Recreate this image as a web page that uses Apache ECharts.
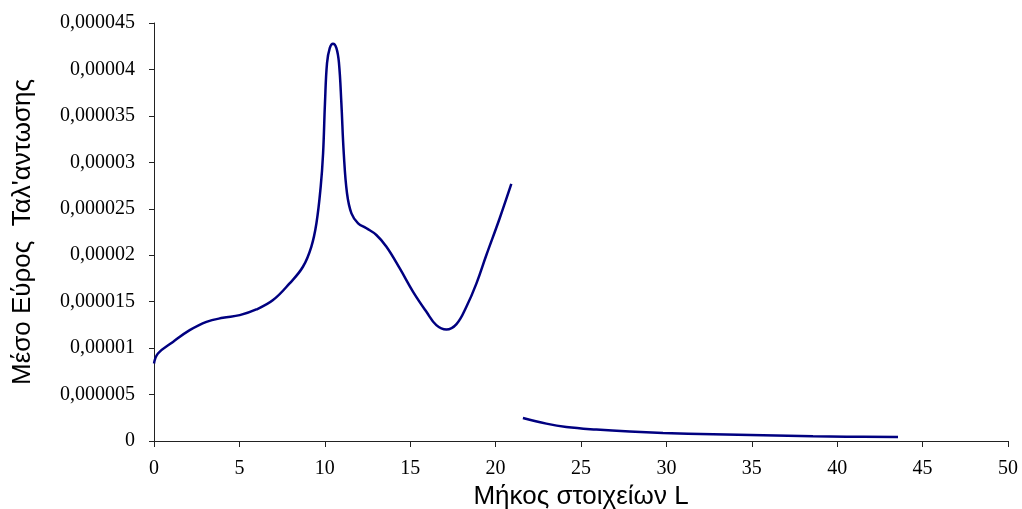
<!DOCTYPE html>
<html>
<head>
<meta charset="utf-8">
<script src="https://cdn.jsdelivr.net/npm/echarts@6/dist/echarts.min.js"></script>
<style>
  html, body { margin: 0; padding: 0; background: #fff; }
  #chart { width: 1022px; height: 509px; }
</style>
</head>
<body>
<div id="chart"></div>
<script>
// Element length L (first branch, up to the resonance region)
const lengthA = [0, 0.23, 1.11, 2.09, 3.07, 4.04, 5.02, 5.99, 6.97, 7.94, 8.72, 9.21, 9.51, 9.76, 9.90, 10.01, 10.13, 10.29, 10.48, 10.68, 10.83, 10.97, 11.11, 11.30, 11.56, 11.95, 12.44, 13.02, 13.61, 14.39, 15.17, 15.95, 16.53, 17.12, 17.71, 18.29, 18.88, 19.46, 20.24, 20.92];
// Mean oscillation amplitude, first branch
const amplitudeA = [8.34e-6, 9.42e-6, 10.67e-6, 11.93e-6, 12.83e-6, 13.26e-6, 13.55e-6, 14.16e-6, 15.17e-6, 16.97e-6, 18.76e-6, 20.91e-6, 23.44e-6, 27.38e-6, 30.98e-6, 36.37e-6, 40.68e-6, 42.3e-6, 42.77e-6, 42.3e-6, 40.68e-6, 36.37e-6, 30.98e-6, 26.67e-6, 24.51e-6, 23.44e-6, 22.9e-6, 22.18e-6, 20.91e-6, 18.58e-6, 16.06e-6, 13.91e-6, 12.47e-6, 12.0e-6, 12.58e-6, 14.45e-6, 16.97e-6, 20.02e-6, 23.98e-6, 27.67e-6];

// Second branch
const lengthB = [21.6, 22.97, 24.14, 25.9, 27.85, 29.8, 32.73, 35.66, 38.58, 40.54, 43.56];
const amplitudeB = [2.48e-6, 1.87e-6, 1.51e-6, 1.23e-6, 1.01e-6, 0.86e-6, 0.72e-6, 0.61e-6, 0.51e-6, 0.47e-6, 0.43e-6];

const xTitle = 'Μήκος στοιχείων L';
const yTitle = "Μέσο Εύρος  Ταλ'αντωσης";

const pair = (xs, ys) => xs.map((x, i) => [x, ys[i]]);

const lineStyle = { color: '#000080', width: 2.5 };

const chart = echarts.init(document.getElementById('chart'), null, { renderer: 'canvas' });
chart.setOption({
  animation: false,
  backgroundColor: '#ffffff',
  grid: { left: 154, right: 14, top: 23, bottom: 68, containLabel: false, outerBoundsMode: 'none' },
  xAxis: {
    type: 'value',
    min: 0, max: 50, interval: 5,
    name: xTitle,
    nameLocation: 'middle',
    nameGap: 42,
    nameTextStyle: { fontFamily: 'Liberation Sans', fontSize: 26, color: '#000' },
    axisLine: { show: true, lineStyle: { color: '#222', width: 1 } },
    axisTick: { show: true, length: 6, lineStyle: { color: '#222' } },
    axisLabel: { fontFamily: 'Liberation Serif', fontSize: 20, color: '#000', margin: 18 },
    splitLine: { show: false }
  },
  yAxis: {
    type: 'value',
    min: 0, max: 0.000045, interval: 0.000005,
    name: yTitle,
    nameLocation: 'middle',
    nameGap: 118,
    nameTextStyle: { fontFamily: 'Liberation Sans', fontSize: 26, color: '#000' },
    axisLine: { show: true, lineStyle: { color: '#222', width: 1 } },
    axisTick: { show: true, length: 5, lineStyle: { color: '#222' } },
    axisLabel: {
      fontFamily: 'Liberation Serif', fontSize: 20, color: '#000', margin: 19,
      formatter: v => String(parseFloat(v.toPrecision(8))).replace('.', ',')
    },
    splitLine: { show: false }
  },
  series: [
    { type: 'line', data: pair(lengthA, amplitudeA), smooth: 0.4, showSymbol: false, lineStyle },
    { type: 'line', data: pair(lengthB, amplitudeB), smooth: 0.4, showSymbol: false, lineStyle }
  ]
});
</script>
</body>
</html>
